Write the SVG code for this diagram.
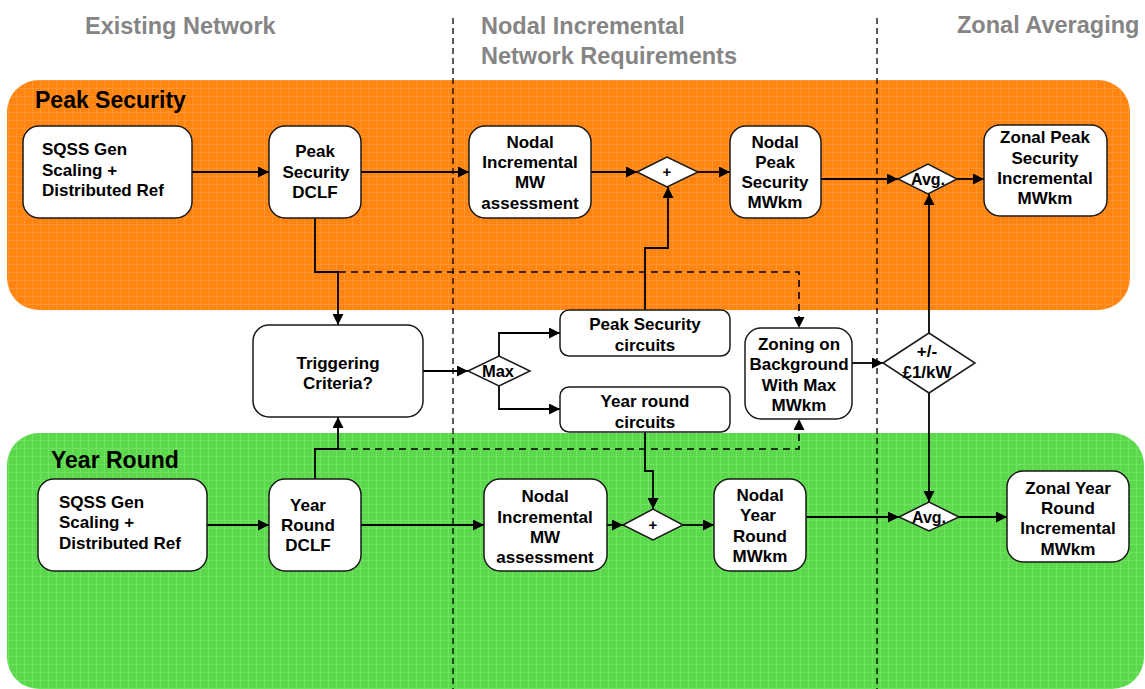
<svg xmlns="http://www.w3.org/2000/svg" width="1145" height="689" viewBox="0 0 1145 689">
<defs>
<style>
.hdr{font-family:"Liberation Sans",Arial,sans-serif;font-weight:bold;font-size:23.5px;fill:#858585}
.band{font-family:"Liberation Sans",Arial,sans-serif;font-weight:bold;font-size:23px;fill:#000}
.box{fill:#fff;stroke:#1a1a1a;stroke-width:1.5}
.t{font-family:"Liberation Sans",Arial,sans-serif;font-weight:bold;font-size:17px;fill:#000;text-anchor:middle}
.tl{font-family:"Liberation Sans",Arial,sans-serif;font-weight:bold;font-size:17px;fill:#000}
.ts{font-family:"Liberation Sans",Arial,sans-serif;font-weight:bold;font-size:15px;fill:#000;text-anchor:middle}
.c{fill:none;stroke:#000;stroke-width:1.8}
.d{fill:none;stroke:#000;stroke-width:1.6;stroke-dasharray:7,5}
.sep{fill:none;stroke:#000;stroke-width:1.3;stroke-dasharray:6,4}
</style>
<marker id="ah" viewBox="0 0 10 10" refX="10" refY="5" markerWidth="6" markerHeight="6" markerUnits="userSpaceOnUse" orient="auto">
<path d="M0,0 L10,5 L0,10 z" fill="#000"/>
</marker>
<marker id="ahb" viewBox="0 0 10 10" refX="10" refY="5" markerWidth="11" markerHeight="11" markerUnits="userSpaceOnUse" orient="auto">
<path d="M0,0 L10,5 L0,10 z" fill="#000"/>
</marker>
<pattern id="og" width="8" height="8" patternUnits="userSpaceOnUse">
<rect width="8" height="8" fill="#FF8410"/>
<path d="M0,0.5 H8 M0.5,0 V8" stroke="#FF9530" stroke-width="1"/>
</pattern>
<pattern id="gg" width="8" height="8" patternUnits="userSpaceOnUse">
<rect width="8" height="8" fill="#5BD84C"/>
<path d="M0,0.5 H8 M0.5,0 V8" stroke="#70E262" stroke-width="1"/>
</pattern>
</defs>

<g id="bands">
<rect id="peak-band" x="7" y="80" width="1123" height="230" rx="32" fill="url(#og)"/>
<rect id="year-band" x="7" y="433" width="1137" height="256" rx="32" fill="url(#gg)"/>
</g>

<g id="separators">
<line class="sep" x1="453" y1="18" x2="453" y2="689"/>
<line class="sep" x1="877" y1="18" x2="877" y2="689"/>
</g>

<g id="headers">
<text class="hdr" x="85" y="34">Existing Network</text>
<text class="hdr" x="481" y="34">Nodal Incremental</text>
<text class="hdr" x="481" y="64">Network Requirements</text>
<text class="hdr" x="957" y="33">Zonal Averaging</text>
<text class="band" x="35" y="108">Peak Security</text>
<text class="band" x="51" y="468">Year Round</text>
</g>

<g id="connectors">
<!-- peak row -->
<line class="c" x1="192" y1="172" x2="269" y2="172" marker-end="url(#ahb)"/>
<line class="c" x1="361" y1="172" x2="469" y2="172" marker-end="url(#ahb)"/>
<line class="c" x1="591" y1="172" x2="637" y2="172" marker-end="url(#ahb)"/>
<line class="c" x1="698" y1="172" x2="730" y2="172" marker-end="url(#ahb)"/>
<line class="c" x1="821" y1="179" x2="898" y2="179" marker-end="url(#ahb)"/>
<line class="c" x1="957" y1="179" x2="984" y2="179" marker-end="url(#ahb)"/>
<!-- DCLF peak down to triggering -->
<polyline class="c" points="315,218 315,272 338,272 338,325" marker-end="url(#ahb)"/>
<polyline class="d" points="315,272 799,272 799,328" marker-end="url(#ahb)"/>
<!-- year DCLF up to triggering -->
<polyline class="c" points="315,479 315,449 338,449 338,417" marker-end="url(#ahb)"/>
<polyline class="d" points="315,449 799,449 799,419" marker-end="url(#ahb)"/>
<!-- triggering to max -->
<line class="c" x1="423" y1="371" x2="468" y2="371" marker-end="url(#ahb)"/>
<polyline class="c" points="499,356 499,333 560,333" marker-end="url(#ahb)"/>
<polyline class="c" points="499,386 499,409 560,409" marker-end="url(#ahb)"/>
<!-- circuits to plus -->
<polyline class="c" points="645,310 645,248 668,248 668,187" marker-end="url(#ahb)"/>
<polyline class="c" points="645,432 645,471 653,471 653,509" marker-end="url(#ahb)"/>
<!-- zoning to +/- -->
<line class="c" x1="852" y1="363" x2="883" y2="363" marker-end="url(#ahb)"/>
<line class="c" x1="929" y1="333" x2="929" y2="194" marker-end="url(#ahb)"/>
<line class="c" x1="929" y1="393" x2="929" y2="502" marker-end="url(#ahb)"/>
<!-- year row -->
<line class="c" x1="207" y1="525" x2="269" y2="525" marker-end="url(#ahb)"/>
<line class="c" x1="361" y1="525" x2="484" y2="525" marker-end="url(#ahb)"/>
<line class="c" x1="607" y1="525" x2="623" y2="525" marker-end="url(#ahb)"/>
<line class="c" x1="683" y1="525" x2="714" y2="525" marker-end="url(#ahb)"/>
<line class="c" x1="806" y1="517" x2="899" y2="517" marker-end="url(#ahb)"/>
<line class="c" x1="959" y1="517" x2="1007" y2="517" marker-end="url(#ahb)"/>
</g>

<g id="n-sqss-peak">
<rect class="box" x="23" y="126" width="169" height="92" rx="16"/>
<text class="tl" x="42" y="155">SQSS Gen</text>
<text class="tl" x="42" y="176">Scaling +</text>
<text class="tl" x="42" y="196">Distributed Ref</text>
</g>
<g id="n-dclf-peak">
<rect class="box" x="269" y="126" width="92" height="92" rx="16"/>
<text class="t" x="315" y="157">Peak</text>
<text class="t" x="316" y="178">Security</text>
<text class="t" x="315" y="198">DCLF</text>
</g>
<g id="n-nodal-inc-peak">
<rect class="box" x="469" y="126" width="122" height="92" rx="16"/>
<text class="t" x="530" y="148">Nodal</text>
<text class="t" x="530" y="168">Incremental</text>
<text class="t" x="530" y="188">MW</text>
<text class="t" x="530" y="209">assessment</text>
</g>
<g id="n-plus-peak">
<polygon class="box" points="637,172 667,157 698,172 667,187"/>
<text class="ts" x="667" y="177">+</text>
</g>
<g id="n-nodal-peak">
<rect class="box" x="730" y="126" width="91" height="92" rx="16"/>
<text class="t" x="775" y="148">Nodal</text>
<text class="t" x="775" y="168">Peak</text>
<text class="t" x="775" y="188">Security</text>
<text class="t" x="775" y="208">MWkm</text>
</g>
<g id="n-avg-peak">
<polygon class="box" points="898,179 928,164 957,179 928,194"/>
<text class="t" x="928" y="185" style="font-size:16px">Avg.</text>
</g>
<g id="n-zonal-peak">
<rect class="box" x="984" y="125" width="123" height="91" rx="16"/>
<text class="t" x="1045" y="143">Zonal Peak</text>
<text class="t" x="1045" y="164">Security</text>
<text class="t" x="1045" y="184">Incremental</text>
<text class="t" x="1045" y="204">MWkm</text>
</g>

<g id="n-trigger">
<rect class="box" x="253" y="325" width="170" height="92" rx="16"/>
<text class="t" x="338" y="369">Triggering</text>
<text class="t" x="338" y="389">Criteria?</text>
</g>
<g id="n-max">
<polygon class="box" points="468,371 499,356 530,371 499,386"/>
<text class="t" x="498" y="377" style="font-size:16.5px">Max</text>
</g>
<g id="n-peak-circuits">
<rect class="box" x="560" y="310" width="170" height="46" rx="9"/>
<text class="t" x="645" y="330">Peak Security</text>
<text class="t" x="645" y="351">circuits</text>
</g>
<g id="n-year-circuits">
<rect class="box" x="560" y="387" width="170" height="45" rx="9"/>
<text class="t" x="645" y="407">Year round</text>
<text class="t" x="645" y="428">circuits</text>
</g>
<g id="n-zoning">
<rect class="box" x="745" y="328" width="107" height="91" rx="16"/>
<text class="t" x="799" y="350">Zoning on</text>
<text class="t" x="799" y="370">Background</text>
<text class="t" x="799" y="391">With Max</text>
<text class="t" x="799" y="411">MWkm</text>
</g>
<g id="n-pm">
<polygon class="box" points="883,363 929,333 975,363 929,393"/>
<text class="t" x="927" y="357">+/-</text>
<text class="t" x="927" y="378">£1/kW</text>
</g>

<g id="n-sqss-year">
<rect class="box" x="38" y="479" width="169" height="92" rx="16"/>
<text class="tl" x="59" y="508">SQSS Gen</text>
<text class="tl" x="59" y="528">Scaling +</text>
<text class="tl" x="59" y="549">Distributed Ref</text>
</g>
<g id="n-dclf-year">
<rect class="box" x="269" y="479" width="92" height="92" rx="16"/>
<text class="t" x="308" y="511">Year</text>
<text class="t" x="308" y="531">Round</text>
<text class="t" x="308" y="551">DCLF</text>
</g>
<g id="n-nodal-inc-year">
<rect class="box" x="484" y="479" width="123" height="92" rx="16"/>
<text class="t" x="545" y="502">Nodal</text>
<text class="t" x="545" y="523">Incremental</text>
<text class="t" x="545" y="543">MW</text>
<text class="t" x="545" y="563">assessment</text>
</g>
<g id="n-plus-year">
<polygon class="box" points="623,525 653,509 683,525 653,540"/>
<text class="ts" x="653" y="530">+</text>
</g>
<g id="n-nodal-year">
<rect class="box" x="714" y="479" width="92" height="92" rx="16"/>
<text class="t" x="760" y="501">Nodal</text>
<text class="t" x="758" y="521">Year</text>
<text class="t" x="760" y="542">Round</text>
<text class="t" x="760" y="562">MWkm</text>
</g>
<g id="n-avg-year">
<polygon class="box" points="899,517 929,502 959,517 929,531"/>
<text class="t" x="929" y="523" style="font-size:16px">Avg.</text>
</g>
<g id="n-zonal-year">
<rect class="box" x="1007" y="471" width="122" height="91" rx="16"/>
<text class="t" x="1068" y="494">Zonal Year</text>
<text class="t" x="1068" y="514">Round</text>
<text class="t" x="1068" y="534">Incremental</text>
<text class="t" x="1068" y="555">MWkm</text>
</g>
</svg>
